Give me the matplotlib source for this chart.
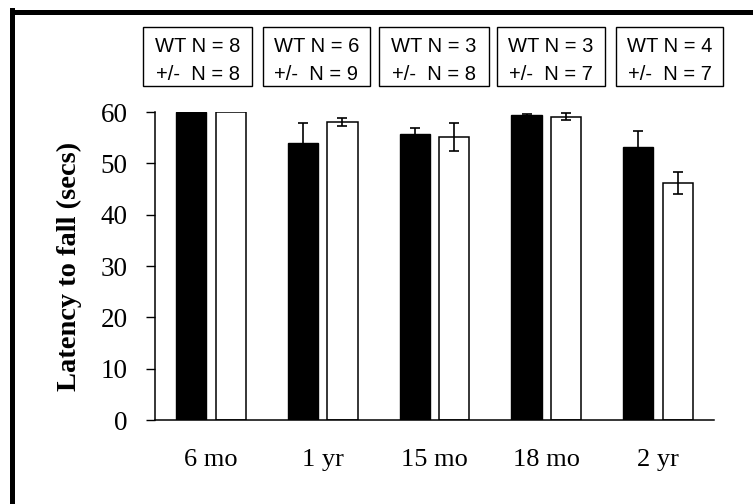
import matplotlib.pyplot as plt
import numpy as np
from matplotlib.lines import Line2D
from matplotlib.patches import Rectangle

ages = ['6 mo', '1 yr', '15 mo', '18 mo', '2 yr']
wt_mean = [60.0, 53.9, 55.8, 59.4, 53.2]
wt_err = [0.0, 3.9, 1.1, 0.3, 3.1]
het_mean = [60.0, 58.1, 55.1, 59.1, 46.2]
het_err = [0.0, 0.8, 2.75, 0.65, 2.2]
wt_n = [8, 6, 3, 3, 4]
het_n = [8, 9, 8, 7, 7]

W, H = 753, 504


def main():
    fig = plt.figure(figsize=(W / 100, H / 100), dpi=100)
    ax = fig.add_axes([155 / W, 84 / H, 559 / W, 308 / H])

    x = np.arange(len(ages))
    bw = 0.27
    off = 0.177

    ax.bar(x - off, wt_mean, bw, color='black', edgecolor='black', linewidth=1)
    ax.bar(x + off, het_mean, bw, color='white', edgecolor='black', linewidth=1.1)

    # error bars (skip groups without spread)
    for xs, m, e in [(x - off, wt_mean, wt_err), (x + off, het_mean, het_err)]:
        for xi, mi, ei in zip(xs, m, e):
            if ei > 0:
                ax.errorbar(xi, mi, yerr=ei, fmt='none', ecolor='black',
                            elinewidth=1.2, capsize=3.8, capthick=1.2)

    ax.set_xlim(-0.5, 4.5)
    ax.set_ylim(0, 60)
    ax.set_yticks(range(0, 61, 10))
    ax.set_xticks(x)
    ax.set_xticklabels(ages, family='Liberation Serif', fontsize=19)
    ax.tick_params(axis='x', length=0, pad=21)
    ax.tick_params(axis='y', direction='out', length=6.8, width=1, pad=13)
    for lab in ax.get_yticklabels():
        lab.set_family('Liberation Serif')
        lab.set_fontsize(19.5)
    ax.spines['top'].set_visible(False)
    ax.spines['right'].set_visible(False)
    ax.spines['left'].set_linewidth(1.1)
    ax.spines['bottom'].set_linewidth(1.1)
    ax.set_ylabel('Latency to fall (secs)', family='Liberation Serif',
                  fontsize=20.5, fontweight='bold', labelpad=13)

    # sample size boxes along the top
    boxes = [(143, 252), (263, 370), (379, 489), (497, 605), (616, 723)]
    top, bot = 27, 86
    for (l, r), a, b in zip(boxes, wt_n, het_n):
        fig.add_artist(Rectangle((l / W, 1 - bot / H), (r - l) / W, (bot - top) / H,
                                 transform=fig.transFigure, facecolor='white',
                                 edgecolor='black', linewidth=1.0))
        cx = (l + r) / 2 / W
        fig.text(cx, 1 - 52.5 / H, f'WT N = {a}', ha='center', va='baseline',
                 family='Liberation Sans', fontsize=14.5)
        fig.text(cx, 1 - 79.5 / H, f'+/-  N = {b}', ha='center', va='baseline',
                 family='Liberation Sans', fontsize=14.5)

    # heavy outer frame (left and top edges)
    fig.add_artist(Line2D([11.5 / W, 11.5 / W], [0, 1 - 9.5 / H],
                          transform=fig.transFigure, color='black', linewidth=3.6,
                          solid_capstyle='projecting'))
    fig.add_artist(Line2D([11.5 / W, 1], [1 - 11.5 / H, 1 - 11.5 / H],
                          transform=fig.transFigure, color='black', linewidth=3.6,
                          solid_capstyle='projecting'))

    fig.savefig('out.png', dpi=100)


if __name__ == '__main__':
    main()
